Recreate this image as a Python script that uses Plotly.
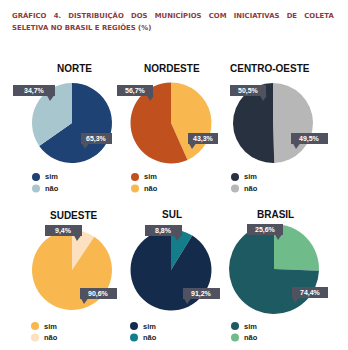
import plotly.graph_objects as go

W, H = 348, 350

# Data
regions = ["NORTE", "NORDESTE", "CENTRO-OESTE", "SUDESTE", "SUL", "BRASIL"]
sim_pct = [65.3, 56.7, 50.5, 90.6, 91.2, 74.4]
nao_pct = [34.7, 43.3, 49.5, 9.4, 8.8, 25.6]
legend_labels = ["sim", "não"]
sim_colors = ["#1e4273", "#c0501e", "#27313f", "#f8b84f", "#152b4b", "#1e5a62"]
nao_colors = ["#a8c6ce", "#f8b84f", "#b7b7b7", "#fde0c0", "#137d8b", "#6fbc8a"]
title_line1 = ["GRÁFICO", "4.", "DISTRIBUIÇÃO", "DOS", "MUNICÍPIOS", "COM",
               "INICIATIVAS", "DE", "COLETA"]
title_line2 = "SELETIVA NO BRASIL E REGIÕES (%)"

# Layout (pixel units, origin top-left)
pie_center = [(72, 123), (171, 123), (273, 123), (72, 270), (171, 270), (274, 269)]
pie_radius = [40, 40.5, 40, 40, 40.5, 45]
# True: "sim" runs clockwise from 12 o'clock; False: "não" does
sim_first = [True, False, False, False, False, False]
title_pos = [(74, 68), (172, 68), (270, 68), (74, 215), (172, 214), (275, 214)]
legend_pos = [(36, 177), (135, 177), (235, 177), (35, 326), (134, 326), (235, 326)]
# value boxes: (x0, y_top, x1, tail_x)
sim_box = [(81, 133, 112, 85), (117, 85, 153, 150), (230, 85, 266, 263),
           (80, 288, 117, 84), (183, 288, 220, 187), (292, 287, 328, 295)]
nao_box = [(13, 85, 55, 50), (188, 133, 218, 192), (291, 133, 328, 296),
           (45, 225, 82, 77), (145, 225, 182, 177), (247, 224, 283, 278)]

BOX_H = 11
BOX_COLOR = "#50535f"
TITLE_COLOR = "#8e3b3b"
JUSTIFY_GAP = "\u00a0" * 3   # widened word gap for the justified first line


def px(x):
    return x / W


def py(y):
    return 1 - y / H


def fmt(v):
    return f"{v:.1f}".replace(".", ",") + "%"


fig = go.Figure()
shapes = []
annotations = []

for i, reg in enumerate(regions):
    cx, cy = pie_center[i]
    r = pie_radius[i]
    labs = legend_labels if sim_first[i] else legend_labels[::-1]
    vals = [sim_pct[i], nao_pct[i]] if sim_first[i] else [nao_pct[i], sim_pct[i]]
    cols = [sim_colors[i], nao_colors[i]] if sim_first[i] else [nao_colors[i], sim_colors[i]]
    fig.add_trace(go.Pie(
        labels=labs,
        values=vals,
        marker=dict(colors=cols, line=dict(width=0)),
        sort=False,
        direction="clockwise",
        rotation=0,
        textinfo="none",
        hoverinfo="label+percent",
        showlegend=False,
        domain=dict(x=[px(cx - r), px(cx + r)], y=[py(cy + r), py(cy - r)]),
    ))

    tx, ty = title_pos[i]
    annotations.append(dict(
        x=px(tx), y=py(ty), xref="paper", yref="paper", text=f"<b>{reg}</b>",
        showarrow=False, xanchor="center", yanchor="middle",
        font=dict(family="Liberation Sans", size=10, color="#111111"),
    ))

    # Legend items
    lx, ly = legend_pos[i]
    for j, (lab, col) in enumerate(zip(legend_labels, [sim_colors[i], nao_colors[i]])):
        yy = ly + j * 11.5
        shapes.append(dict(type="circle", xref="paper", yref="paper",
                           x0=px(lx - 4), x1=px(lx + 4), y0=py(yy + 4), y1=py(yy - 4),
                           fillcolor=col, line=dict(width=0)))
        annotations.append(dict(
            x=px(lx + 7), y=py(yy), xref="paper", yref="paper", text=f"<b>{lab}</b>",
            showarrow=False, xanchor="left", yanchor="middle",
            font=dict(family="Liberation Sans", size=7.5, color="#222222"),
        ))

    # Value boxes with a small tail
    for box, val in ((sim_box[i], sim_pct[i]), (nao_box[i], nao_pct[i])):
        x0, yt, x1, tail = box
        yb = yt + BOX_H
        shapes.append(dict(type="rect", xref="paper", yref="paper",
                           x0=px(x0), x1=px(x1), y0=py(yb), y1=py(yt),
                           fillcolor=BOX_COLOR, line=dict(width=0)))
        path = (f"M {px(tail - 3)} {py(yb - 0.5)} L {px(tail + 4)} {py(yb - 0.5)} "
                f"L {px(tail)} {py(yb + 5)} Z")
        shapes.append(dict(type="path", xref="paper", yref="paper", path=path,
                           fillcolor=BOX_COLOR, line=dict(width=0)))
        annotations.append(dict(
            x=px((x0 + x1) / 2), y=py(yt + BOX_H / 2), xref="paper", yref="paper",
            text=f"<b>{fmt(val)}</b>", showarrow=False,
            xanchor="center", yanchor="middle",
            font=dict(family="Liberation Sans", size=7, color="#ffffff"),
        ))

# Header title
annotations.append(dict(
    x=px(10), y=py(16), xref="paper", yref="paper",
    text=f"<b>{JUSTIFY_GAP.join(title_line1)}</b>",
    showarrow=False, xanchor="left", yanchor="middle",
    font=dict(family="DejaVu Sans", size=6.9, color=TITLE_COLOR),
))
annotations.append(dict(
    x=px(10), y=py(27.5), xref="paper", yref="paper", text=f"<b>{title_line2}</b>",
    showarrow=False, xanchor="left", yanchor="middle",
    font=dict(family="DejaVu Sans", size=6.9, color=TITLE_COLOR),
))

fig.update_layout(
    width=W, height=H,
    margin=dict(l=0, r=0, t=0, b=0),
    paper_bgcolor="#ffffff",
    plot_bgcolor="#ffffff",
    shapes=shapes,
    annotations=annotations,
)

fig.write_html("out.html")
